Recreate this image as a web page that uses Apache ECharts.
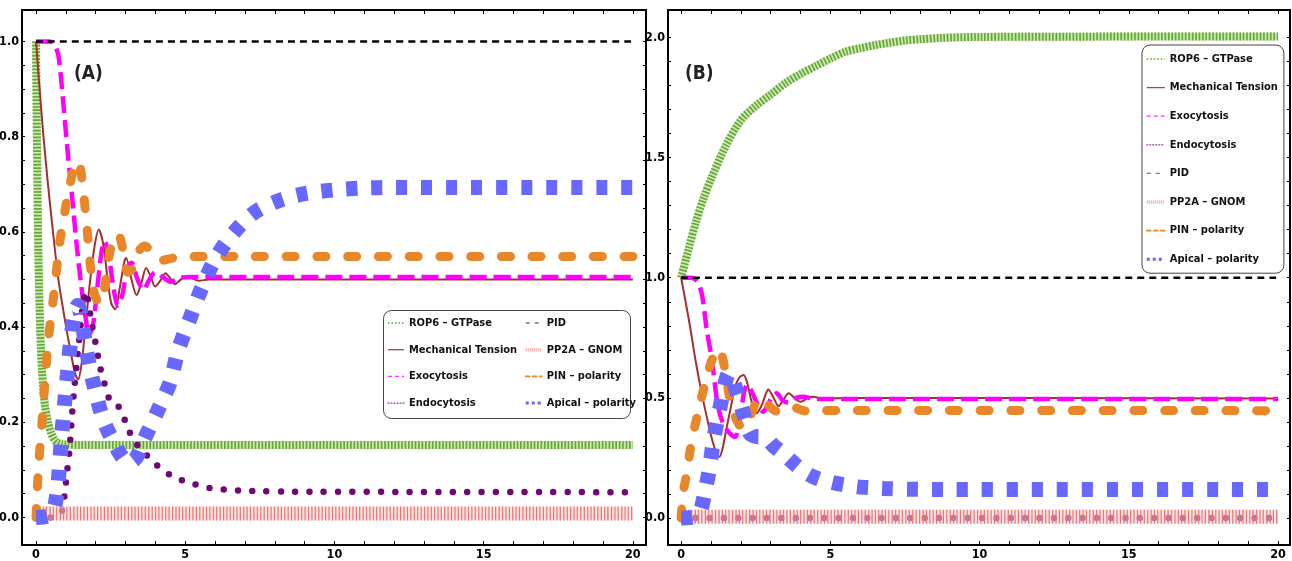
<!DOCTYPE html>
<html>
<head>
<meta charset="utf-8">
<script src="https://cdn.jsdelivr.net/npm/echarts/dist/echarts.min.js"></script>
<style>
  * { margin: 0; padding: 0; }
  body { background: #fff; }
</style>
</head>
<body>
<div id="main" style="width:1292px;height:561px;"></div>
<script>
// ---- data: [t, value] ----
var names = ['ROP6 – GTPase', 'Mechanical Tension', 'Exocytosis', 'Endocytosis',
             'PID', 'PP2A – GNOM', 'PIN – polarity', 'Apical – polarity'];

// panel (A)
var rop6A = [[0,1.0],[0.02,0.86],[0.05,0.68],[0.08,0.55],[0.12,0.44],[0.16,0.36],[0.2,0.31],[0.25,0.265],[0.3,0.235],[0.4,0.2],[0.5,0.178],[0.6,0.165],[0.7,0.158],[0.85,0.154],[1.0,0.153],[1.5,0.152],[20,0.152]];
var mtA = [[0,1.0],[0.12,0.9],[0.25,0.8],[0.4,0.7],[0.55,0.61],[0.75,0.5],[0.9,0.44],[1.05,0.385],[1.2,0.335],[1.32,0.3],[1.41,0.29],[1.52,0.32],[1.64,0.39],[1.8,0.49],[1.95,0.565],[2.1,0.605],[2.25,0.575],[2.4,0.5],[2.52,0.45],[2.65,0.437],[2.8,0.48],[2.95,0.535],[3.02,0.545],[3.2,0.5],[3.37,0.467],[3.52,0.49],[3.69,0.524],[3.85,0.505],[3.99,0.485],[4.17,0.498],[4.34,0.513],[4.5,0.502],[4.66,0.49],[4.82,0.498],[4.99,0.506],[5.2,0.503],[5.45,0.497],[5.8,0.5],[20,0.5]];
var exoA = [[0,1.0],[0.45,1.0],[0.6,0.995],[0.75,0.97],[0.9,0.88],[1.05,0.775],[1.2,0.68],[1.35,0.58],[1.5,0.495],[1.65,0.425],[1.78,0.385],[1.9,0.4],[2.05,0.48],[2.2,0.56],[2.3,0.58],[2.45,0.545],[2.6,0.48],[2.75,0.445],[2.9,0.47],[3.05,0.52],[3.2,0.535],[3.4,0.5],[3.6,0.478],[3.8,0.5],[4.0,0.515],[4.25,0.505],[4.5,0.495],[4.8,0.503],[5.2,0.505],[20,0.505]];
var endoA = [[0,0],[0.5,0],[0.75,0.004],[0.88,0.015],[0.97,0.055],[1.05,0.1],[1.12,0.14],[1.2,0.21],[1.28,0.27],[1.36,0.32],[1.44,0.37],[1.52,0.42],[1.6,0.46],[1.68,0.475],[1.76,0.45],[1.86,0.41],[2.0,0.365],[2.15,0.315],[2.3,0.28],[2.48,0.245],[2.65,0.237],[2.84,0.228],[3.04,0.193],[3.3,0.16],[3.7,0.131],[4.04,0.11],[4.5,0.089],[4.93,0.077],[5.4,0.068],[5.9,0.061],[6.4,0.058],[6.9,0.056],[7.5,0.055],[8.5,0.054],[20,0.053]];
var pidA = [[0,1.0],[20,1.0]];
var pp2aA = [[0,0.008],[20,0.008]];
var pinA = [[0,0],[0.03,0.045],[0.1,0.12],[0.2,0.2],[0.3,0.285],[0.4,0.365],[0.5,0.42],[0.6,0.47],[0.8,0.58],[1.0,0.655],[1.2,0.718],[1.32,0.742],[1.42,0.748],[1.52,0.72],[1.62,0.665],[1.72,0.6],[1.82,0.53],[1.92,0.48],[2.05,0.455],[2.18,0.45],[2.32,0.49],[2.45,0.55],[2.6,0.585],[2.75,0.595],[2.92,0.56],[3.08,0.515],[3.25,0.525],[3.45,0.56],[3.65,0.57],[3.9,0.555],[4.2,0.54],[4.6,0.545],[5.2,0.548],[20,0.548]];
var apiA = [[0,0],[0.4,0.003],[0.55,0.012],[0.65,0.03],[0.75,0.08],[0.85,0.165],[0.95,0.235],[1.05,0.3],[1.15,0.365],[1.27,0.42],[1.4,0.445],[1.52,0.42],[1.64,0.37],[1.8,0.315],[1.95,0.275],[2.15,0.226],[2.35,0.19],[2.6,0.159],[2.85,0.13],[3.1,0.115],[3.35,0.125],[3.65,0.167],[4.04,0.219],[4.3,0.255],[4.5,0.285],[4.77,0.352],[5.16,0.418],[5.55,0.482],[6.05,0.548],[6.65,0.6],[7.35,0.642],[8.2,0.667],[9,0.68],[10,0.688],[11,0.692],[12,0.693],[20,0.693]];

// panel (B)
var rop6B = [[0,1.0],[0.25,1.12],[0.5,1.233],[0.75,1.33],[1.0,1.41],[1.5,1.55],[2.0,1.655],[2.5,1.715],[3.0,1.762],[3.5,1.81],[4.0,1.848],[4.5,1.88],[5.0,1.912],[5.5,1.94],[6.0,1.955],[6.5,1.968],[7.0,1.978],[7.5,1.987],[8,1.992],[8.7,1.998],[10,2.002],[20,2.004]];
var mtB = [[0,1.0],[0.15,0.9],[0.3,0.796],[0.45,0.68],[0.58,0.59],[0.72,0.5],[0.86,0.421],[1.0,0.345],[1.1,0.3],[1.2,0.265],[1.28,0.255],[1.38,0.285],[1.53,0.38],[1.68,0.47],[1.81,0.546],[1.95,0.585],[2.09,0.595],[2.22,0.56],[2.35,0.49],[2.53,0.436],[2.7,0.47],[2.85,0.52],[2.92,0.535],[3.1,0.5],[3.26,0.466],[3.42,0.49],[3.6,0.519],[3.8,0.5],[3.99,0.484],[4.12,0.49],[4.26,0.503],[4.45,0.505],[4.7,0.496],[5.0,0.498],[5.5,0.5],[20,0.498]];
var exoB = [[0,1.0],[0.35,1.0],[0.5,0.99],[0.6,0.97],[0.69,0.935],[0.78,0.86],[0.86,0.782],[1.03,0.657],[1.2,0.491],[1.33,0.42],[1.47,0.38],[1.65,0.35],[1.81,0.338],[1.92,0.38],[2.03,0.463],[2.12,0.53],[2.22,0.555],[2.35,0.53],[2.5,0.49],[2.65,0.455],[2.75,0.442],[2.9,0.47],[3.05,0.505],[3.2,0.519],[3.4,0.49],[3.6,0.48],[3.85,0.5],[4.1,0.505],[4.4,0.497],[4.8,0.495],[20,0.495]];
var endoB = [[0,0],[20,0]];
var pidB = [[0,1.0],[20,1.0]];
var pp2aB = [[0,0.006],[20,0.006]];
var pinB = [[0,0],[0.04,0.07],[0.1,0.13],[0.2,0.19],[0.3,0.28],[0.4,0.35],[0.53,0.42],[0.66,0.49],[0.8,0.56],[0.92,0.615],[1.03,0.657],[1.15,0.69],[1.25,0.705],[1.36,0.68],[1.47,0.616],[1.56,0.55],[1.64,0.49],[1.75,0.44],[1.87,0.405],[2.0,0.38],[2.12,0.375],[2.25,0.4],[2.4,0.45],[2.55,0.49],[2.7,0.5],[2.85,0.485],[3.0,0.46],[3.2,0.445],[3.4,0.45],[3.6,0.462],[3.85,0.458],[4.1,0.447],[4.4,0.443],[4.8,0.447],[5.5,0.448],[20,0.447]];
var apiB = [[0,0],[0.45,0.005],[0.6,0.02],[0.69,0.047],[0.8,0.11],[0.92,0.186],[1.0,0.25],[1.08,0.32],[1.2,0.4],[1.31,0.465],[1.45,0.55],[1.6,0.602],[1.72,0.58],[1.85,0.53],[1.98,0.48],[2.15,0.41],[2.31,0.352],[2.5,0.34],[2.7,0.338],[2.87,0.33],[3.1,0.3],[3.3,0.28],[3.54,0.255],[3.85,0.22],[4.21,0.186],[4.6,0.163],[5.1,0.147],[5.5,0.138],[5.94,0.13],[6.4,0.126],[6.8,0.123],[7.6,0.12],[9,0.119],[20,0.119]];

// tick labels / tick marks
var xLabels = [0, 5, 10, 15, 20];
var xTicks = [0,1,2,3,4,5,6,7,8,9,10,11,12,13,14,15,16,17,18,19,20];
var yLabelsA = [0, 0.2, 0.4, 0.6, 0.8, 1.0];
var yTicksA = [0,0.05,0.1,0.15,0.2,0.25,0.3,0.35,0.4,0.45,0.5,0.55,0.6,0.65,0.7,0.75,0.8,0.85,0.9,0.95,1.0];
var yLabelsB = [0, 0.5, 1.0, 1.5, 2.0];
var yTicksB = [0,0.1,0.2,0.3,0.4,0.5,0.6,0.7,0.8,0.9,1.0,1.1,1.2,1.3,1.4,1.5,1.6,1.7,1.8,1.9,2.0];

var FONT = "'DejaVu Sans Condensed','Liberation Sans',sans-serif";

// line styles per curve
var sty = {
  rop6bg: {color: '#cfe8bc', width: 8},
  rop6:   {color: '#66a930', width: 8, type: [1.7, 1.7]},
  mt:     {color: '#a33030', width: 2},
  exo:    {color: '#ff00ff', width: 4.5, type: [17, 7]},
  endo:   {color: '#6e0a72', width: 6.5, type: [0, 14.33], cap: 'round'},
  pid:    {color: '#000000', width: 2.5, type: [7, 5]},
  pp2abg: {color: 'rgba(248,205,205,0.55)', width: 14},
  pp2a:   {color: '#ef7272', width: 14, type: [1.2, 2.2]},
  pin:    {color: '#e8862a', width: 9, type: [9, 21.7], cap: 'round'},
  api:    {color: '#6868ff', width: 15, type: [11, 14]}
};

function mk(name, data, panel, s) {
  return {
    name: name, type: 'line', data: data,
    xAxisIndex: panel * 2, yAxisIndex: panel * 2,
    symbol: 'none', smooth: 0.3, silent: true, animation: false,
    lineStyle: {color: s.color, width: s.width, type: s.type || 'solid', cap: s.cap || 'butt'}
  };
}

function panelSeries(p, d) {
  return [
    mk('rop6bg', d[0], p, sty.rop6bg),
    mk(names[0], d[0], p, sty.rop6),
    mk(names[1], d[1], p, sty.mt),
    mk(names[2], d[2], p, sty.exo),
    mk(names[3], d[3], p, sty.endo),
    mk(names[4], d[4], p, sty.pid),
    mk('pp2abg', d[5], p, sty.pp2abg),
    mk(names[5], d[5], p, sty.pp2a),
    mk(names[6], d[6], p, sty.pin),
    mk(names[7], d[7], p, sty.api)
  ];
}

var series = panelSeries(0, [rop6A, mtA, exoA, endoA, pidA, pp2aA, pinA, apiA])
  .concat(panelSeries(1, [rop6B, mtB, exoB, endoB, pidB, pp2aB, pinB, apiB]));

function xAx(g, pos, lab, min, max) {
  return {
    type: 'value', gridIndex: g, position: pos, min: min, max: max,
    axisLine: {show: true, onZero: false, lineStyle: {color: '#000', width: 2}},
    axisTick: {show: true, inside: true, length: 4, customValues: xTicks, lineStyle: {color: '#000', width: 1}},
    axisLabel: {show: lab, customValues: xLabels, margin: 3, color: '#000', fontSize: 12.5,
                fontWeight: 'bold', fontFamily: FONT},
    splitLine: {show: false}
  };
}
function yAx(g, pos, lab, min, max, labels, ticks) {
  return {
    type: 'value', gridIndex: g, position: pos, min: min, max: max,
    axisLine: {show: true, onZero: false, lineStyle: {color: '#000', width: 2}},
    axisTick: {show: true, inside: true, length: 3, customValues: ticks, lineStyle: {color: '#000', width: 1}},
    axisLabel: {show: lab, customValues: labels, margin: 3, color: '#000', fontSize: 12.5,
                fontWeight: 'bold', fontFamily: FONT, formatter: function (v) { return v.toFixed(1); }},
    splitLine: {show: false}
  };
}

// legend icon styles
var legIcon = [
  {color: '#7cc04a', width: 2, type: [1.5, 2]},
  {color: '#b04040', width: 1.3, type: 'solid'},
  {color: '#ff33ff', width: 1.3, type: [4, 3]},
  {color: '#9933aa', width: 1.3, type: [1, 2]},
  {color: '#777777', width: 1.3, type: [4, 5]},
  {color: '#f4a0a0', width: 3.5, type: [1, 1]},
  {color: '#e8862a', width: 1.8, type: [4, 3]},
  {color: '#6666ff', width: 3, type: [3, 3]}
];
function legData(idx) {
  return idx.map(function (i) {
    return {name: names[i], lineStyle: legIcon[i], itemStyle: {opacity: 0}};
  });
}
function legend(idx, left, top, gap, fs, iw, extra) {
  var l = {
    data: legData(idx), orient: 'vertical', left: left, top: top, padding: 0,
    itemGap: gap, itemWidth: iw, itemHeight: 14, itemStyle: {opacity: 0},
    selectedMode: false,
    textStyle: {color: '#111', fontSize: fs, fontWeight: 'bold', fontFamily: FONT, lineHeight: 16}
  };
  for (var k in extra) l[k] = extra[k];
  return l;
}

var chart = echarts.init(document.getElementById('main'));
chart.setOption({
  animation: false,
  backgroundColor: '#fff',
  title: [
    {text: '(A)', left: 74, top: 65, padding: 0,
     textStyle: {fontSize: 19, fontWeight: 'bold', fontFamily: FONT, color: '#222'}},
    {text: '(B)', left: 685, top: 65, padding: 0,
     textStyle: {fontSize: 19, fontWeight: 'bold', fontFamily: FONT, color: '#222'}}
  ],
  grid: [
    {left: 22, top: 10, width: 624, height: 535, outerBoundsMode: 'none'},
    {left: 668, top: 10, width: 622, height: 535, outerBoundsMode: 'none'}
  ],
  xAxis: [
    xAx(0, 'bottom', true, -0.47, 20.44), xAx(0, 'top', false, -0.47, 20.44),
    xAx(1, 'bottom', true, -0.44, 20.4), xAx(1, 'top', false, -0.44, 20.4)
  ],
  yAxis: [
    yAx(0, 'left', true, -0.058, 1.066, yLabelsA, yTicksA), yAx(0, 'right', false, -0.058, 1.066, yLabelsA, yTicksA),
    yAx(1, 'left', true, -0.112, 2.114, yLabelsB, yTicksB), yAx(1, 'right', false, -0.112, 2.114, yLabelsB, yTicksB)
  ],
  graphic: [
    {type: 'rect', left: 383, top: 310, shape: {width: 247, height: 108, r: 8},
     style: {fill: '#fff', stroke: '#444', lineWidth: 1}, z: 3}
  ],
  legend: [
    legend([0, 1, 2, 3], 387, 315, 10.7, 11, 16, {z: 5}),
    legend([4, 5, 6, 7], 524, 315, 10.7, 11, 16, {z: 5}),
    legend([0, 1, 2, 3, 4, 5, 6, 7], 1142, 45, 12.6, 11, 18,
           {padding: [6, 6, 6, 3], backgroundColor: '#fff', borderColor: '#444', borderWidth: 1, borderRadius: 8})
  ],
  series: series
});
</script>
</body>
</html>
